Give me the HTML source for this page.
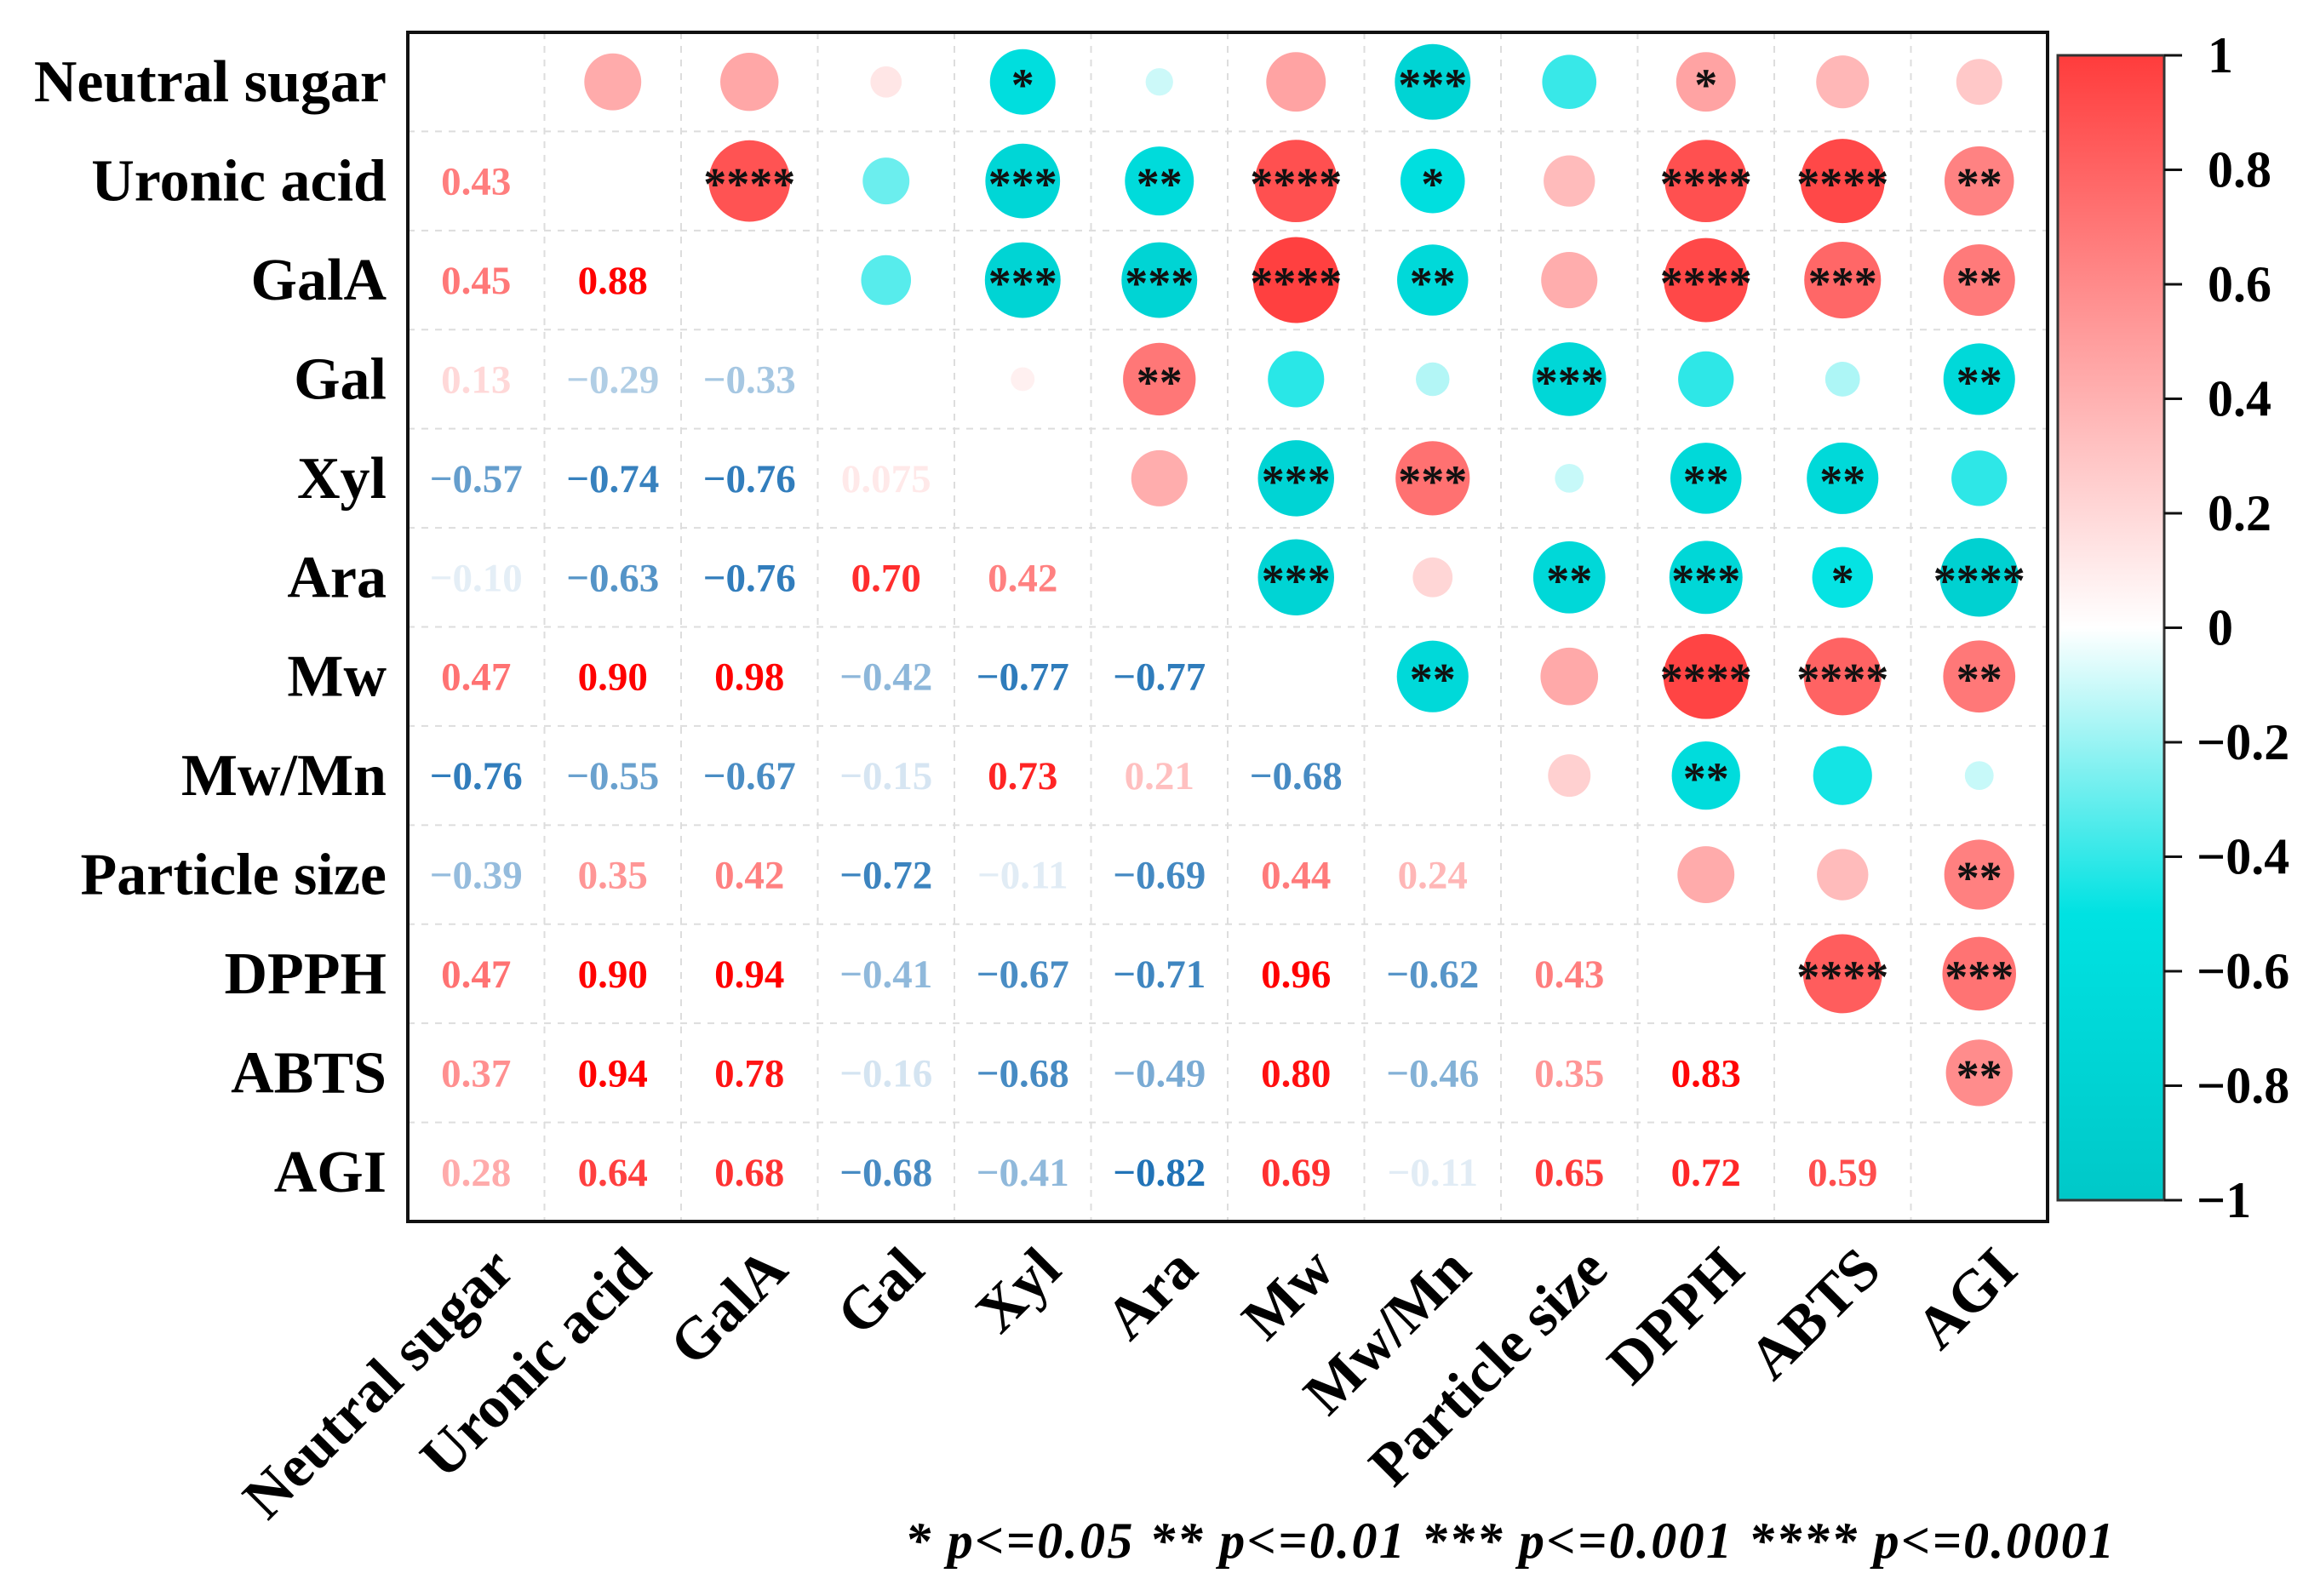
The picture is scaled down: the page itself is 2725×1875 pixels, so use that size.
<!DOCTYPE html>
<html><head><meta charset="utf-8"><style>
html,body{margin:0;padding:0;background:#fff;}
svg{display:block;}
text{font-family:"Liberation Serif",serif;font-weight:bold;}
</style></head><body>
<svg id="chart" width="2725" height="1875" viewBox="0 0 2725 1875" xmlns="http://www.w3.org/2000/svg">
<defs>
<linearGradient id="cbar" x1="0" y1="0" x2="0" y2="1">
<stop offset="0" stop-color="#ff3c3c"/>
<stop offset="0.5" stop-color="#ffffff"/>
<stop offset="0.75" stop-color="#00e2e2"/>
<stop offset="1" stop-color="#00c8c8"/>
</linearGradient>
</defs>
<g id="grid"></g>
<g id="marks"></g>
<rect x="479" y="38" width="1926" height="1397" fill="none" stroke="#111" stroke-width="4"/>
<g id="rowlabels"></g>
<g id="collabels"></g>
<rect x="2417" y="65" width="125" height="1345" fill="url(#cbar)" stroke="#333" stroke-width="3"/>
<g id="cbticks"></g>
<text x="1063" y="1830" font-size="60" font-style="italic" textLength="1420" lengthAdjust="spacing">* p&lt;=0.05   ** p&lt;=0.01   *** p&lt;=0.001   **** p&lt;=0.0001</text>
</svg>
<script>
const labels = ["Neutral sugar","Uronic acid","GalA","Gal","Xyl","Ara","Mw","Mw/Mn","Particle size","DPPH","ABTS","AGI"];
const lowerValues = [
 [],
 [0.43],
 [0.45,0.88],
 [0.13,-0.29,-0.33],
 [-0.57,-0.74,-0.76,0.075],
 [-0.10,-0.63,-0.76,0.70,0.42],
 [0.47,0.90,0.98,-0.42,-0.77,-0.77],
 [-0.76,-0.55,-0.67,-0.15,0.73,0.21,-0.68],
 [-0.39,0.35,0.42,-0.72,-0.11,-0.69,0.44,0.24],
 [0.47,0.90,0.94,-0.41,-0.67,-0.71,0.96,-0.62,0.43],
 [0.37,0.94,0.78,-0.16,-0.68,-0.49,0.80,-0.46,0.35,0.83],
 [0.28,0.64,0.68,-0.68,-0.41,-0.82,0.69,-0.11,0.65,0.72,0.59]
];
const valueText = [
 [],
 ["0.43"],
 ["0.45","0.88"],
 ["0.13","−0.29","−0.33"],
 ["−0.57","−0.74","−0.76","0.075"],
 ["−0.10","−0.63","−0.76","0.70","0.42"],
 ["0.47","0.90","0.98","−0.42","−0.77","−0.77"],
 ["−0.76","−0.55","−0.67","−0.15","0.73","0.21","−0.68"],
 ["−0.39","0.35","0.42","−0.72","−0.11","−0.69","0.44","0.24"],
 ["0.47","0.90","0.94","−0.41","−0.67","−0.71","0.96","−0.62","0.43"],
 ["0.37","0.94","0.78","−0.16","−0.68","−0.49","0.80","−0.46","0.35","0.83"],
 ["0.28","0.64","0.68","−0.68","−0.41","−0.82","0.69","−0.11","0.65","0.72","0.59"]
];
// stars for pair (row i, col j>i) stored as lower index [j][i]
const stars = [
 [],
 [""],
 ["","****"],
 ["","",""],
 ["*","***","***",""],
 ["","**","***","**",""],
 ["","****","****","","***","***"],
 ["***","*","**","","***","","**"],
 ["","","","***","","**","",""],
 ["*","****","****","","**","***","****","**",""],
 ["","****","***","","**","*","****","","","****"],
 ["","**","**","**","","****","**","","**","***","**"]
];
const cbTicks = [1,0.8,0.6,0.4,0.2,0,-0.2,-0.4,-0.6,-0.8,-1];

const X0=479, Y0=38, CW=1926/12, CH=1397/12;
const CB_TOP=65, CB_BOT=1410;
const NS="http://www.w3.org/2000/svg";
function cx(j){return X0+CW*(j+0.5);}
function cy(i){return Y0+CH*(i+0.5);}
function cbY(v){return CB_TOP+(1-v)/2*(CB_BOT-CB_TOP);}
function radius(v){return 51*Math.sqrt(Math.abs(v));}
function mix(a,b,t){return [0,1,2].map(k=>Math.round(a[k]+(b[k]-a[k])*t));}
function rgb(c){return "rgb("+c.join(",")+")";}
function fillColor(v){
  if(v>=0) return rgb(mix([255,255,255],[255,60,60],Math.min(1,v)));
  const a=Math.abs(v);
  if(a<=0.5) return rgb(mix([255,255,255],[0,226,226],a/0.5));
  return rgb(mix([0,226,226],[0,200,200],(a-0.5)/0.5));
}
function textColor(v){
  const t=Math.min(1,Math.abs(v)/0.85);
  return v>=0? rgb(mix([255,255,255],[255,0,0],t)) : rgb(mix([255,255,255],[25,110,180],t));
}
function el(tag,attrs,parent){const e=document.createElementNS(NS,tag);for(const k in attrs)e.setAttribute(k,attrs[k]);parent.appendChild(e);return e;}

const grid=document.getElementById('grid');
for(let k=1;k<12;k++){
  const l1=el('line',{x1:X0+CW*k,y1:Y0,x2:X0+CW*k,y2:Y0+1397,stroke:'#ddd','stroke-width':2,'stroke-dasharray':'8,8'},grid);
  
  
  const l2=el('line',{x1:X0,y1:Y0+CH*k,x2:X0+1926,y2:Y0+CH*k,stroke:'#ddd','stroke-width':2,'stroke-dasharray':'8,8'},grid);
  
  
}
const marks=document.getElementById('marks');
for(let i=1;i<12;i++){
  for(let j=0;j<i;j++){
    const v=lowerValues[i][j];
    const t=el('text',{x:cx(j),y:cy(i)+16,'text-anchor':'middle','font-size':47,fill:textColor(v)},marks);
    t.textContent=valueText[i][j];
    
    
    const c=el('circle',{cx:cx(i),cy:cy(j),r:radius(v),fill:fillColor(v)},marks);
    
    
    const s=stars[i][j];
    if(s){
      const st=el('text',{x:cx(i),y:cy(j)+22,'text-anchor':'middle','font-size':54,fill:'#111','font-weight':'normal'},marks);
      st.textContent=s;
      
      
    }
  }
}
const rl=document.getElementById('rowlabels');
labels.forEach((lab,i)=>{
  const t=el('text',{x:454,y:cy(i)+23,'text-anchor':'end','font-size':70,fill:'#000'},rl);
  t.textContent=lab;
  
  
});
const cl=document.getElementById('collabels');
labels.forEach((lab,j)=>{
  const x=cx(j)+48, y=1495;
  const t=el('text',{x:x,y:y,'text-anchor':'end','font-size':70,fill:'#000',transform:'rotate(-45 '+x+' '+y+')'},cl);
  t.textContent=lab;
  
  
});
const cb=document.getElementById('cbticks');
cbTicks.forEach(v=>{
  const y=cbY(v);
  const ln=el('line',{x1:2542,y1:y,x2:2563,y2:y,stroke:'#111','stroke-width':3},cb);
  
  
  const t=el('text',{x:2593,y:y+20,'font-size':60,fill:'#000'},cb);
  t.textContent=v<0?('−'+Math.abs(v)):String(v);
  if(v<0) t.setAttribute('x',2580);
  
  
});
</script>
</body></html>
